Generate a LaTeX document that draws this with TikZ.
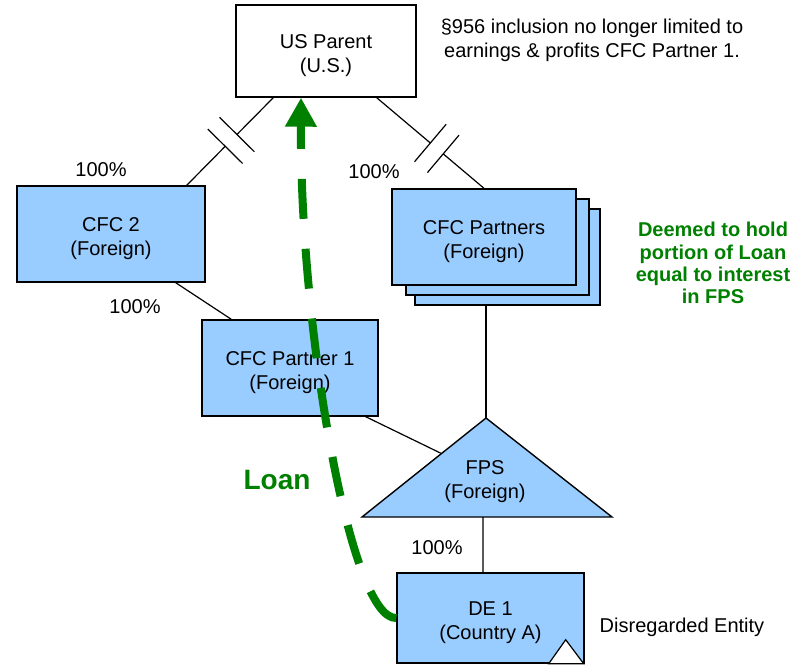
\documentclass[tikz,border=0pt]{standalone}
\usepackage{fontspec}
\setmainfont{Liberation Sans}
\usetikzlibrary{arrows.meta, positioning, calc}
\definecolor{entityblue}{HTML}{99CCFF}
\definecolor{loangreen}{HTML}{008000}

\begin{document}
\begin{tikzpicture}[x=1pt, y=-1pt,
    every node/.style={font=\fontsize{20}{24}\selectfont},
    entity/.style={draw=black, line width=1.4pt, fill=entityblue, align=center, inner sep=0pt,
      text height=47pt, text depth=4pt},
    link/.style={draw=black, line width=1.2pt}]
  \useasboundingbox (0,0) rectangle (794,669);

  % entities
  \node[entity, fill=white, minimum width=180pt, minimum height=92pt] (us) at (326,51) {US Parent\\(U.S.)};
  \node[entity, minimum width=188pt, minimum height=96pt] (cfc2) at (111,234) {CFC 2\\(Foreign)};
  \node[entity, minimum width=185pt, minimum height=96pt] (pb1) at (507.5,257) {};
  \node[entity, minimum width=183pt, minimum height=96pt] (pb2) at (497.5,247) {};
  \node[entity, minimum width=184pt, minimum height=96pt] (pf) at (484,237) {CFC Partners\\(Foreign)};
  \node[entity, minimum width=176pt, minimum height=96pt] (p1) at (290,368) {CFC Partner 1\\(Foreign)};
  \node[entity, minimum width=187pt, minimum height=90pt] (de1) at (490.5,618) {DE 1\\(Country A)};

  % FPS triangle
  \coordinate (fpsT) at (486,418);
  \coordinate (fpsL) at (362,517);
  \coordinate (fpsR) at (612,517);
  \filldraw[fill=entityblue, line width=1.4pt] (fpsL) -- (fpsT) -- (fpsR) -- cycle;
  \node[align=center] (fps) at (485,482) {FPS\\(Foreign)};

  % disregarded marker
  \filldraw[fill=white, line width=1.2pt] ($(de1.south east)+(-36,0)$) -- ($(de1.south east)+(-19,-24)$) -- ($(de1.south east)+(-1,0)$) -- cycle;

  % texts
  \node[align=center] (note) at (592,40) {§956 inclusion no longer limited to\\earnings \& profits CFC Partner 1.};
  \node[align=center, text=loangreen, font=\bfseries\fontsize{20}{22.3}\selectfont] (deemed) at (713,263) {Deemed to hold\\portion of Loan\\equal to interest\\in FPS};
  \node[text=loangreen, font=\bfseries\fontsize{28}{32}\selectfont] (loanlbl) at (277,480) {Loan};
  \node (detxt) at (682,627) {Disregarded Entity};
  \node (pct1) at (101,170) {100\%};
  \node (pct2) at (374,172) {100\%};
  \node (pct3) at (135,307) {100\%};
  \node (pct4) at (437,548) {100\%};

  % US Parent -- CFC 2 (broken)
  \coordinate (a1) at ($(us.south west)+(38,0)$);
  \coordinate (a2) at ($(cfc2.north east)+(-19,0)$);
  \coordinate (a3) at ($(a1)!0.42!(a2)$);
  \coordinate (a4) at ($(a1)!0.555!(a2)$);
  \draw[link] (a1) -- (a3);
  \draw[link] (a4) -- (a2);
  \draw[link] ($(a3)!24.5pt!90:(a1)$) -- ($(a3)!24.5pt!-90:(a1)$);
  \draw[link] ($(a4)!24.5pt!90:(a1)$) -- ($(a4)!24.5pt!-90:(a1)$);

  % US Parent -- CFC Partners (broken)
  \coordinate (b1) at ($(us.south east)+(-40,0)$);
  \coordinate (b2) at (pf.north);
  \coordinate (b3) at ($(b1)!0.5!(b2)$);
  \coordinate (b4) at ($(b1)!0.62!(b2)$);
  \draw[link] (b1) -- (b3);
  \draw[link] (b4) -- (b2);
  \draw[link] ($(b3)!24.5pt!90:(b1)$) -- ($(b3)!24.5pt!-90:(b1)$);
  \draw[link] ($(b4)!24.5pt!90:(b1)$) -- ($(b4)!24.5pt!-90:(b1)$);

  % ownership lines
  \draw[link] ($(cfc2.south east)+(-30,0)$) -- ($(p1.north west)+(30,0)$);
  \draw[link] ($(p1.south east)+(-13,0)$) -- ($(fpsL)!0.641!(fpsT)$);
  \draw[link] (fpsT |- pb1.south) -- (fpsT);
  \draw[link] ($(fpsL)!0.484!(fpsR)$) -- ($(de1.north)+(-7.5,0)$);

  % loan
  \draw[loangreen, line width=8pt, dash pattern=on 40pt off 30pt, dash phase=16pt,
    {Triangle[length=29pt,width=30pt]}-] ($(us.south)+(-25,0)$) .. controls (300,330) and (350,620) .. (de1.west);
\end{tikzpicture}
\end{document}
